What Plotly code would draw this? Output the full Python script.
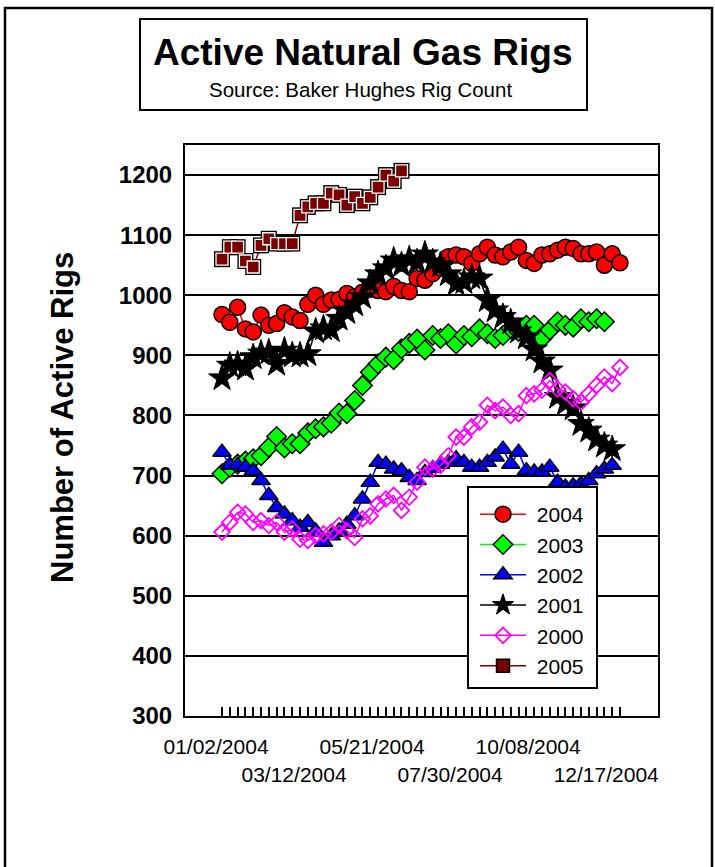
import plotly.graph_objects as go

# ---------------- data (weekly rig counts) ----------------
x_tick_labels = ["01/02/2004", "03/12/2004", "05/21/2004", "07/30/2004", "10/08/2004", "12/17/2004"]
x_label_weeks = [0, 10, 20, 30, 40, 50]
n_weeks = 52

rigs_2004 = [968, 955, 980, 944, 939, 967, 950, 953, 971, 964, 958, 985, 1000, 985, 992, 993,
             1003, 997, 1005, 1010, 1008, 1006, 1015, 1008, 1006, 1028, 1025, 1036, 1045, 1064,
             1067, 1064, 1053, 1069, 1080, 1067, 1064, 1072, 1080, 1058, 1053, 1067, 1069, 1075,
             1080, 1078, 1069, 1069, 1072, 1050, 1069, 1054]
rigs_2003 = [703, 714, 719, 724, 728, 733, 747, 765, 746, 753, 753, 771, 778, 781, 787, 804,
             803, 825, 850, 872, 886, 897, 893, 911, 920, 927, 909, 933, 928, 936, 919, 933,
             931, 944, 936, 928, 933, 945, 940, 950, 950, 928, 942, 956, 950, 947, 961, 956,
             961, 956]
rigs_2002 = [739, 717, 717, 714, 708, 692, 667, 647, 636, 625, 614, 622, 608, 589, 600, 608,
             619, 633, 661, 689, 722, 719, 711, 708, 697, 692, 705, 712, 719, 722, 728, 722,
             714, 714, 722, 731, 744, 719, 739, 708, 706, 706, 714, 689, 681, 683, 686, 692,
             703, 711, 717]
rigs_2001 = [862, 883, 885, 878, 897, 903, 905, 886, 908, 900, 900, 902, 940, 945, 942, 961,
             972, 985, 997, 1020, 1035, 1045, 1058, 1050, 1060, 1055, 1068, 1055, 1050, 1035,
             1019, 1022, 1030, 1028, 992, 975, 964, 955, 940, 930, 910, 890, 875, 831, 820,
             812, 786, 775, 760, 750, 744]
rigs_2000 = [606, 622, 639, 636, 622, 625, 617, 622, 606, 611, 594, 592, 600, 603, 606, 617,
             608, 597, 628, 633, 653, 661, 667, 642, 664, 689, 714, 711, 717, 733, 764, 764,
             781, 789, 817, 808, 814, 800, 803, 833, 836, 842, 858, 844, 839, 828, 822, 836,
             850, 864, 853, 880]
rigs_2005 = [1060, 1080, 1080, 1057, 1047, 1083, 1094, 1086, 1086, 1086, 1133, 1147, 1153, 1153,
             1170, 1167, 1150, 1164, 1153, 1163, 1180, 1200, 1190, 1207]

# ---------------- layout geometry ----------------
W, H = 715, 867
L, R, T, B = 185, 57, 145, 151
PW, PH = W - L - R, H - T - B


def px(xp):
    return (xp - L) / PW


def py(yp):
    return (H - B - yp) / PH


FONT = "Arial, 'Liberation Sans', Helvetica, sans-serif"
NB = "\u00a0"  # small gap between legend symbol and label

fig = go.Figure()


def weeks(vals):
    return list(range(len(vals)))


fig.add_trace(go.Scatter(
    x=weeks(rigs_2004), y=rigs_2004, name=NB + "2004", mode="lines+markers",
    line=dict(color="#ff0000", width=1.5),
    marker=dict(symbol="circle", size=16, color="#ff0000", line=dict(color="black", width=1.5)),
    legendrank=1))
fig.add_trace(go.Scatter(
    x=weeks(rigs_2003), y=rigs_2003, name=NB + "2003", mode="lines+markers",
    line=dict(color="#00ff00", width=1.5),
    marker=dict(symbol="diamond", size=15, color="#00ff00", line=dict(color="black", width=1.5)),
    legendrank=2))
fig.add_trace(go.Scatter(
    x=weeks(rigs_2002), y=rigs_2002, name=NB + "2002", mode="lines+markers",
    line=dict(color="#0000ff", width=1.5),
    marker=dict(symbol="triangle-up", size=16, color="#0000ff", line=dict(color="black", width=1.5)),
    legendrank=3))
fig.add_trace(go.Scatter(
    x=weeks(rigs_2001), y=rigs_2001, name=NB + "2001", mode="lines+markers",
    line=dict(color="black", width=1.5),
    marker=dict(symbol="star", size=20, color="black", line=dict(color="black", width=1)),
    legendrank=4))
fig.add_trace(go.Scatter(
    x=weeks(rigs_2000), y=rigs_2000, name=NB + "2000", mode="lines+markers",
    line=dict(color="#ff00ff", width=1.5),
    marker=dict(symbol="diamond-open", size=12, color="#ff00ff", line=dict(color="#ff00ff", width=1.8)),
    legendrank=5))
# 2005: dark red squares with black rim and white inner highlight
fig.add_trace(go.Scatter(
    x=weeks(rigs_2005), y=rigs_2005, name="2005", mode="lines+markers", showlegend=False,
    line=dict(color="#800000", width=1.5),
    marker=dict(symbol="square", size=16, color="black")))
fig.add_trace(go.Scatter(
    x=weeks(rigs_2005), y=rigs_2005, name="2005", mode="markers", showlegend=False,
    marker=dict(symbol="square", size=12, color="#7a0000", line=dict(color="white", width=1.3))))
fig.add_trace(go.Scatter(
    x=[None], y=[None], name=NB + "2005", mode="lines+markers",
    line=dict(color="#800000", width=1.5),
    marker=dict(symbol="square", size=13, color="#7a0000", line=dict(color="black", width=1.5)),
    legendrank=6))

# x-axis: one tick per week, date labels every 10 weeks on two staggered rows
tickvals = list(range(n_weeks))
ticktext = [""] * n_weeks
for k, (wk, lab) in enumerate(zip(x_label_weeks, x_tick_labels)):
    ticktext[wk] = lab if k % 2 == 0 else "<br>" + lab

px_per_week = (620 - 222) / (n_weeks - 1)
x0 = -(222 - L) / px_per_week
x1 = x0 + PW / px_per_week

fig.update_xaxes(
    range=[x0, x1], tickmode="array", tickvals=tickvals, ticktext=ticktext,
    ticks="inside", ticklen=9, tickwidth=1.5, tickcolor="black",
    showgrid=False, zeroline=False, showline=True, linecolor="black", linewidth=2, mirror=True,
    tickfont=dict(family=FONT, size=21, color="black"), tickangle=0,
    ticklabelstandoff=11, ticklabelshift=-6)
fig.update_yaxes(
    range=[300, 1250], tickmode="array", tickvals=list(range(300, 1201, 100)),
    showgrid=True, gridcolor="black", gridwidth=2, zeroline=False,
    showline=True, linecolor="black", linewidth=2, mirror=True, ticks="",
    tickfont=dict(family=FONT, size=24, color="black", weight="bold"), ticklabelstandoff=6)

shapes = [
    # outer frame
    dict(type="rect", xref="paper", yref="paper", x0=px(5), x1=px(712), y0=py(880), y1=py(8),
         line=dict(color="black", width=2.5), fillcolor="rgba(0,0,0,0)", layer="below"),
    # title box
    dict(type="rect", xref="paper", yref="paper", x0=px(140), x1=px(587), y0=py(110), y1=py(19),
         line=dict(color="black", width=2), fillcolor="white", layer="below"),
    # legend box (drawn over the data, legend entries sit on top)
    dict(type="rect", xref="paper", yref="paper", x0=px(468), x1=px(597), y0=py(688), y1=py(487),
         line=dict(color="black", width=2), fillcolor="white", layer="above"),
]

annotations = [
    dict(text="<b>Active Natural Gas Rigs</b>", xref="paper", yref="paper", x=px(362), y=py(53),
         xanchor="center", yanchor="middle", showarrow=False,
         font=dict(family=FONT, size=37, color="black")),
    dict(text="Source: Baker Hughes Rig Count", xref="paper", yref="paper", x=px(360), y=py(89),
         xanchor="center", yanchor="middle", showarrow=False,
         font=dict(family=FONT, size=20.5, color="black")),
    dict(text="<b>Number of Active Rigs</b>", xref="paper", yref="paper", x=px(62), y=py(418),
         xanchor="center", yanchor="middle", showarrow=False, textangle=-90,
         font=dict(family=FONT, size=31, color="black")),
]

fig.update_layout(
    width=W, height=H, margin=dict(l=L, r=R, t=T, b=B, autoexpand=False),
    paper_bgcolor="white", plot_bgcolor="white",
    shapes=shapes, annotations=annotations,
    legend=dict(x=px(475), y=py(494), xanchor="left", yanchor="top",
                bgcolor="rgba(0,0,0,0)", borderwidth=0,
                font=dict(family=FONT, size=21, color="black"),
                tracegroupgap=0, itemwidth=46),
)

fig.write_html("out.html", config={"displayModeBar": False},
               post_script="document.body.style.margin='0px';")
